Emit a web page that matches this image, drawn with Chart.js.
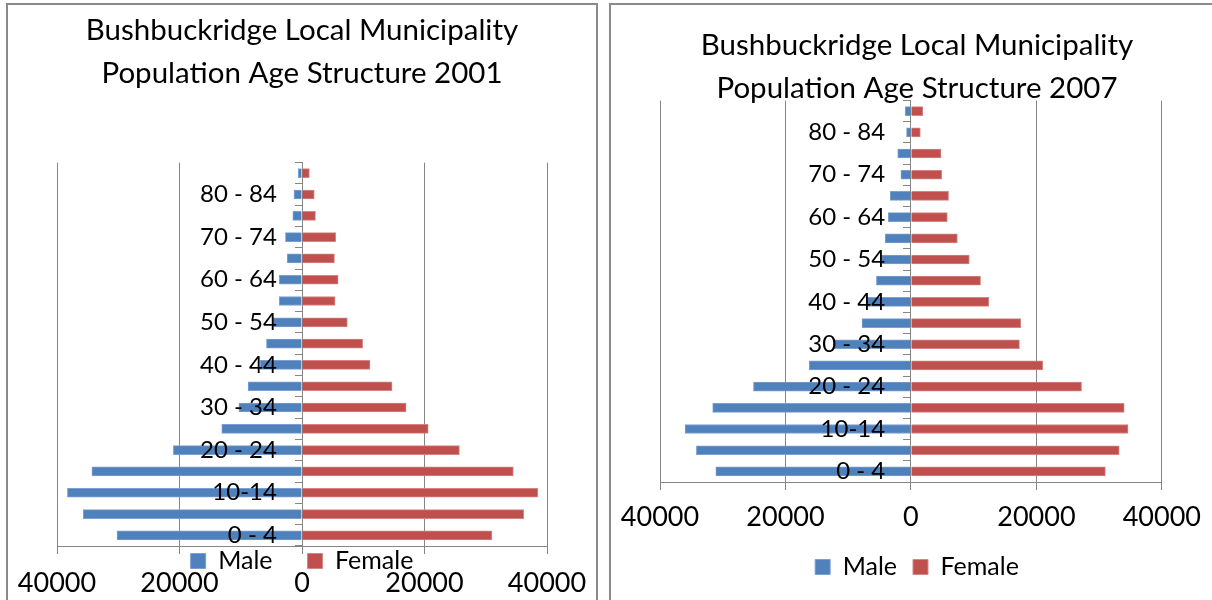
<!DOCTYPE html>
<html lang="en">
<head>
  <meta charset="UTF-8">
  <title>Bushbuckridge Population Age Structure</title>
  <script src="https://cdn.jsdelivr.net/npm/chart.js"></script>
  <style>
    body { margin: 0; background: #fff; width: 1212px; height: 600px; overflow: hidden; position: relative; }
    .frame { position: absolute; border: 2px solid #8a8a8a; box-sizing: border-box; }
    #frame2001 { left: 6px; top: 3px; width: 592px; height: 640px; }
    #frame2007 { left: 609px; top: 3px; width: 640px; height: 640px; }
    canvas { position: absolute; top: 0; }
    #chart2001 { left: 0; }
    #chart2007 { left: 606px; }
  </style>
</head>
<body>
  <div class="frame" id="frame2001"></div>
  <div class="frame" id="frame2007"></div>
  <canvas id="chart2001" width="606" height="600"></canvas>
  <canvas id="chart2007" width="606" height="600"></canvas>

  <script>
    // age bands, youngest first (every other label is shown on the axis)
    const ageGroups = ['0 - 4', '5 - 9', '10-14', '15 - 19', '20 - 24', '25 - 29', '30 - 34', '35 - 39',
      '40 - 44', '45 - 49', '50 - 54', '55 - 59', '60 - 64', '65 - 69', '70 - 74', '75 - 79', '80 - 84', '85+'];

    // population counts
    const male2001 = [30200, 35700, 38300, 34300, 21000, 13100, 10300, 8800, 6800, 5800, 4800, 3700, 3700, 2400, 2700, 1500, 1300, 600];
    const female2001 = [31000, 36200, 38500, 34500, 25700, 20600, 17000, 14700, 11100, 9900, 7400, 5400, 5900, 5300, 5500, 2200, 2000, 1200];
    const male2007 = [31100, 34200, 36000, 31600, 25100, 16200, 12300, 7800, 7100, 5500, 4700, 4100, 3600, 3300, 1600, 2100, 700, 900];
    const female2007 = [31000, 33200, 34600, 34000, 27200, 21000, 17300, 17500, 12400, 11100, 9300, 7400, 5800, 6000, 4900, 4800, 1500, 1900];

    const xTicks = [-40000, -20000, 0, 20000, 40000];

    Chart.defaults.font.family = "Lato, 'Open Sans', sans-serif";
    Chart.defaults.color = '#000';

    const gridGrey = '#868686';

    // moves the legend up so it sits just under the value axis line (Excel style)
    function legendUnderAxis(centerOffset) {
      return {
        id: 'legendUnderAxis',
        afterLayout(chart) {
          const lg = chart.legend;
          const lab = chart.options.plugins.legend.labels;
          const top = chart.chartArea.bottom + centerOffset - lab.padding - lab.font.size / 2;
          lg.top = top;
          lg.height = 120;
          lg.bottom = top + 120;
        }
      };
    }

    function makePyramid(canvasId, title, male, female, opt) {
      return new Chart(document.getElementById(canvasId), {
        type: 'bar',
        data: {
          labels: ageGroups,
          datasets: [
            { label: 'Male', data: male.map(v => -v), backgroundColor: '#4F81BD', borderColor: '#7a9fd0', borderWidth: 1 },
            { label: 'Female', data: female, backgroundColor: '#C0504D', borderColor: '#d58583', borderWidth: 1 }
          ]
        },
        options: {
          indexAxis: 'y',
          responsive: false,
          animation: false,
          devicePixelRatio: 1,
          barThickness: 9,
          layout: { padding: opt.padding },
          scales: {
            x: {
              stacked: true,
              min: xTicks[0],
              max: xTicks[xTicks.length - 1],
              afterBuildTicks: axis => { axis.ticks = xTicks.map(v => ({ value: v })); },
              afterFit: axis => { axis.height = opt.xHeight; },
              grid: { color: gridGrey, tickLength: 8 },
              border: { color: gridGrey },
              ticks: {
                font: { size: 27 },
                padding: opt.xPad,
                maxRotation: 0,
                callback: v => String(Math.abs(v))
              }
            },
            // category axis line with tick marks between the bands, crossing at 0
            y: {
              stacked: true,
              reverse: true,
              position: { x: 0 },
              grid: { offset: true, drawOnChartArea: false, color: gridGrey, tickLength: 7 },
              border: { color: gridGrey },
              ticks: { display: false }
            },
            // the band labels, set a little to the left of the axis and drawn over the bars
            yLabels: {
              type: 'category',
              axis: 'y',
              reverse: true,
              offset: true,
              position: { x: -4100 },
              grid: { display: false },
              border: { display: false },
              ticks: {
                z: 1,
                autoSkip: false,
                font: { size: 24 },
                padding: 0,
                callback: (v, i) => (i % 2 === 0 ? ageGroups[i] : '')
              }
            }
          },
          plugins: {
            title: {
              display: true,
              text: title,
              font: { size: 29.5, weight: 'normal', lineHeight: 1.45 },
              color: '#000',
              padding: opt.titlePad
            },
            legend: {
              position: 'bottom',
              maxHeight: 1,
              labels: { boxWidth: 15, boxHeight: 15, padding: opt.legendPad, font: { size: 25 } }
            },
            tooltip: { enabled: false }
          }
        },
        plugins: [legendUnderAxis(opt.legendOffset)]
      });
    }

    makePyramid('chart2001',
      ['Bushbuckridge Local Municipality', 'Population Age Structure 2001'],
      male2001, female2001,
      { padding: { left: 57, right: 59, top: 0, bottom: 0 }, titlePad: { top: 9, bottom: 68 },
        xHeight: 53, xPad: 13, legendPad: 35, legendOffset: 15 });

    makePyramid('chart2007',
      ['Bushbuckridge Local Municipality', 'Population Age Structure 2007'],
      male2007, female2007,
      { padding: { left: 54, right: 38, top: 0, bottom: 0 }, titlePad: { top: 24, bottom: -9 },
        xHeight: 117, xPad: 11, legendPad: 16, legendOffset: 85 });
  </script>
</body>
</html>
